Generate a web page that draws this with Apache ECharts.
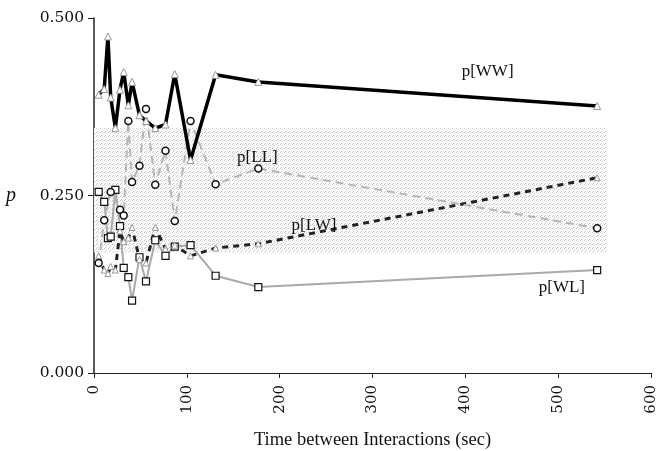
<!DOCTYPE html>
<html>
<head>
<meta charset="utf-8">
<script src="https://cdn.jsdelivr.net/npm/echarts@6/dist/echarts.min.js"></script>
<style>
  html, body { margin: 0; padding: 0; background: #fff; }
  #main { width: 658px; height: 451px; }
</style>
</head>
<body>
<div id="main"></div>
<script>
var myChart = echarts.init(document.getElementById('main'));

// time bins (sec)
var times = [5, 11, 15, 18, 23, 28, 32, 37, 41, 49, 56, 66, 77, 87, 104, 131, 177, 542];

var pWW = [0.392, 0.400, 0.474, 0.388, 0.345, 0.399, 0.424, 0.377, 0.410, 0.363, 0.355, 0.345, 0.350, 0.421, 0.300, 0.420, 0.410, 0.376];
var pLL = [0.155, 0.215, null, 0.255, null, 0.230, 0.222, 0.355, 0.269, 0.292, 0.372, 0.265, 0.313, 0.214, 0.355, 0.266, 0.288, 0.204];
var pLW = [0.165, 0.145, 0.140, 0.150, 0.145, 0.200, 0.185, 0.190, 0.205, 0.160, 0.155, 0.205, 0.175, 0.180, 0.165, 0.176, 0.182, 0.275];
var pWL = [0.255, 0.241, 0.190, 0.192, 0.258, 0.207, 0.148, 0.135, 0.102, 0.163, 0.129, 0.187, 0.165, 0.178, 0.180, 0.137, 0.121, 0.145];

// shaded band (x range, p range)
var bandX = [0, 552];
var bandY = [0.170, 0.345];

// series labels: name, x, p
var labelNames = ['p[WW]', 'p[LL]', 'p[LW]', 'p[WL]'];
var labelX = [424, 176, 237, 504];
var labelY = [0.424, 0.303, 0.208, 0.121];

var yTicks = [0, 0.25, 0.5];

function pairs(vals) {
    var res = [];
    for (var i = 0; i < times.length; i++) {
        res.push([times[i], vals[i] == null ? '-' : vals[i]]);
    }
    return res;
}

// stipple texture for the band
var pat = document.createElement('canvas');
pat.width = 4;
pat.height = 4;
var pc = pat.getContext('2d');
pc.fillStyle = '#fbfbfb';
pc.fillRect(0, 0, 4, 4);
pc.fillStyle = '#c4c4c4';
pc.fillRect(0, 0, 1, 1);
pc.fillRect(2, 1, 1, 1);
pc.fillRect(1, 3, 1, 1);

var serif = 'Liberation Serif';
var tickFont = 'DejaVu Serif';

var labelPoints = [];
for (var i = 0; i < labelNames.length; i++) {
    labelPoints.push({
        name: labelNames[i],
        coord: [labelX[i], labelY[i]],
        symbolSize: 0,
        label: {
            show: true,
            formatter: labelNames[i],
            position: 'inside',
            color: '#111',
            fontFamily: serif,
            fontSize: 17
        }
    });
}

var triStyle = { color: '#fff', borderColor: '#999', borderWidth: 1 };

option = {
    animation: false,
    backgroundColor: '#fff',
    grid: { left: 94, right: 7, top: 18, bottom: 78, containLabel: false, outerBoundsMode: 'none' },
    xAxis: {
        type: 'value',
        min: 0,
        max: 600,
        interval: 100,
        name: 'Time between Interactions (sec)',
        nameLocation: 'middle',
        nameGap: 58,
        nameTextStyle: { fontFamily: serif, fontSize: 18.5, color: '#111' },
        axisLine: { lineStyle: { color: '#222', width: 1 } },
        axisTick: { length: 5, lineStyle: { color: '#222' } },
        axisLabel: { rotate: 90, fontFamily: tickFont, fontSize: 15, color: '#111', margin: 12 },
        splitLine: { show: false }
    },
    yAxis: {
        type: 'value',
        min: yTicks[0],
        max: yTicks[2],
        interval: 0.25,
        name: 'p',
        nameLocation: 'middle',
        nameRotate: 0,
        nameGap: 78,
        nameTextStyle: { fontFamily: serif, fontStyle: 'italic', fontSize: 20, color: '#111' },
        axisLine: { show: true, lineStyle: { color: '#222', width: 1.5 } },
        axisTick: { show: true, length: 6, lineStyle: { color: '#222' } },
        axisLabel: {
            fontFamily: tickFont, fontSize: 15.5, color: '#111', margin: 10,
            formatter: function (v) { return v.toFixed(3); }
        },
        splitLine: { show: false }
    },
    series: [{
        name: 'band',
        type: 'line',
        data: [],
        silent: true,
        markArea: {
            silent: true,
            itemStyle: { color: { image: pat, repeat: 'repeat' } },
            data: [[{ coord: [bandX[0], bandY[0]] }, { coord: [bandX[1], bandY[1]] }]]
        },
        markPoint: { silent: true, data: labelPoints }
    }, {
        name: 'p[WL]',
        type: 'line',
        data: pairs(pWL),
        connectNulls: true,
        symbol: 'rect',
        symbolSize: 7,
        lineStyle: { color: '#aaa', width: 2 },
        itemStyle: { color: '#fff', borderColor: '#111', borderWidth: 1.2 }
    }, {
        name: 'p[LW]',
        type: 'line',
        data: pairs(pLW),
        connectNulls: true,
        symbol: 'triangle',
        symbolSize: 6,
        lineStyle: { color: '#222', width: 3, type: [6, 5] },
        itemStyle: triStyle
    }, {
        name: 'p[LL]',
        type: 'line',
        data: pairs(pLL),
        connectNulls: true,
        symbol: 'circle',
        symbolSize: 7,
        lineStyle: { color: '#b5b5b5', width: 2, type: [8, 5] },
        itemStyle: { color: '#fff', borderColor: '#111', borderWidth: 1.5 }
    }, {
        name: 'p[WW]',
        type: 'line',
        data: pairs(pWW),
        symbol: 'triangle',
        symbolSize: 7,
        lineStyle: { color: '#000', width: 3.5 },
        itemStyle: triStyle
    }]
};

myChart.setOption(option);
</script>
</body>
</html>
